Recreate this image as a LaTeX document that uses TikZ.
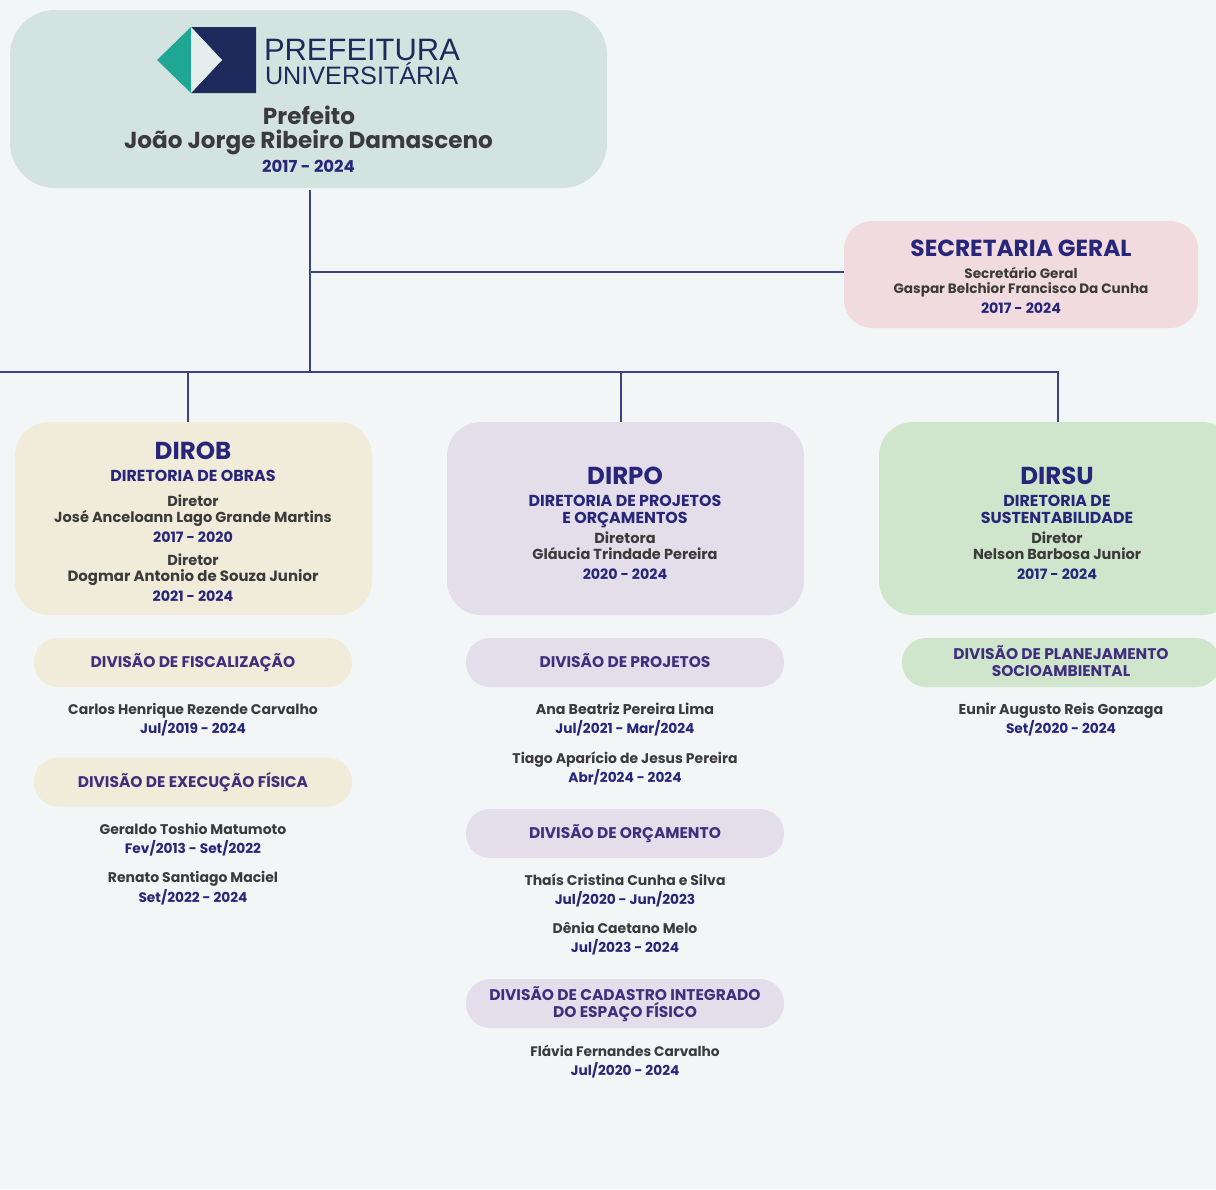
\documentclass[tikz,border=0pt]{standalone}
\usepackage{fontspec}
\setmainfont{Poppins}
\newfontfamily\logofont{Liberation Sans}
\definecolor{bgc}{HTML}{F3F6F6}
\definecolor{topc}{HTML}{D3E3E0}
\definecolor{secc}{HTML}{F2DBDE}
\definecolor{obc}{HTML}{F1ECD9}
\definecolor{poc}{HTML}{E3DEEA}
\definecolor{suc}{HTML}{D0E6CC}
\definecolor{linec}{HTML}{3D4186}
\definecolor{blu}{HTML}{27267A}
\definecolor{gry}{HTML}{3B3B3B}
\definecolor{divc}{HTML}{3F2F7E}
\definecolor{navy}{HTML}{1F2A5C}
\definecolor{teal}{HTML}{1FA695}
\newcommand{\fs}[1]{\fontsize{#1}{#1}\selectfont\bfseries}
\tikzset{
  x=0.75pt,y=-0.75pt,
  lbl/.style={inner sep=0pt,outer sep=0pt,align=center,anchor=center,text depth=0pt,yshift=-0.3pt},
  fsz/.style={font=\fs{#1},text height=#1*0.7pt},
  pers/.style={lbl,text=gry,fsz=10.5},
  head/.style={lbl,text=gry,fsz=10.9},
  date/.style={lbl,text=blu,fsz=10.3},
  bdate/.style={lbl,text=blu,fsz=10.7},
  divt/.style={lbl,text=divc,fsz=11.6},
  dirt/.style={lbl,text=blu,fsz=11.9},
  acro/.style={lbl,text=blu,fsz=18.4},
  conn/.style={draw=linec,line width=0.95pt},
  bx/.style n args={4}{rectangle,draw=none,fill=#1,rounded corners=#2*0.75pt,minimum width=#3*0.75pt,minimum height=#4*0.75pt,inner sep=0pt,outer sep=0pt},
}
\begin{document}
\begin{tikzpicture}
\path[use as bounding box,fill=bgc] (0,0) rectangle (1216,1189);
% boxes
\node[bx={topc}{45}{597}{178}] (top) at (308.5,99) {};
\node[bx={secc}{28}{354}{107}] (sec) at (1021,274.5) {};
\node[bx={obc}{34}{357}{193}] (dirob) at (193.5,518.5) {};
\node[bx={poc}{34}{357}{193}] (dirpo) at (625.5,518.5) {};
\node[bx={suc}{34}{357}{193}] (dirsu) at (1057.5,518.5) {};
\node[bx={obc}{24}{318}{49}] (dfis) at (193,662.5) {};
\node[bx={obc}{24}{318}{49}] (dexe) at (193,782) {};
\node[bx={poc}{24}{318}{49}] (dpro) at (625,662.5) {};
\node[bx={poc}{24}{318}{49}] (dorc) at (625,833.5) {};
\node[bx={poc}{24}{318}{49}] (dcad) at (625,1003.5) {};
\node[bx={suc}{24}{318}{49}] (dpla) at (1061,662.5) {};
% connectors
\coordinate (jsec) at (310,272);
\coordinate (jmain) at (310,372);
\coordinate (jleft) at (0,372);
\coordinate (job) at (188,372);
\coordinate (jpo) at (621,372);
\coordinate (jsu) at (1058,372);
\draw[conn] (jmain |- top.south) ++(0,2) -- (jmain);
\draw[conn] (jsec) -- (sec.west |- jsec);
\draw[conn] (jleft) -- (jsu) -- (jsu |- dirsu.north);
\draw[conn] (job) -- (job |- dirob.north);
\draw[conn] (jpo) -- (jpo |- dirpo.north);
% logo
\fill[teal] (191,27) -- (157,60) -- (191,93) -- cycle;
\fill[navy] (191,27) -- (256,27) -- (256,93) -- (191,93) -- (222,60) -- cycle;
\fill[bgc!60!topc] (191,27) -- (222,60) -- (191,93) -- cycle;
\node[lbl,anchor=west,text=navy,font=\logofont\fontsize{23.2}{23.2}\selectfont,text height=16.6pt] (lg1) at (264,49) {PREFEITURA};
\node[lbl,anchor=west,text=navy,font=\logofont\fontsize{18.9}{18.9}\selectfont,text height=13.6pt] (lg2) at (265,75.5) {UNIVERSITÁRIA};
% top
\node[lbl,text=gry,fsz=17.35] (t1) at (309,116) {Prefeito};
\node[lbl,text=gry,fsz=17.35] (t2) at (308.5,139.5) {João Jorge Ribeiro Damasceno};
\node[lbl,text=blu,fsz=12.4] (t3) at (308.5,166) {2017 - 2024};
% secretaria
\node[acro,fsz=17.45] (s1) at (1021,248) {SECRETARIA GERAL};
\node[pers,fsz=10.2] (s2) at (1021,273) {Secretário Geral};
\node[pers,fsz=10.2] (s3) at (1021,288) {Gaspar Belchior Francisco Da Cunha};
\node[bdate] (s4) at (1021,308) {2017 - 2024};
% dirob
\node[acro] (o1) at (193,451) {DIROB};
\node[dirt] (o2) at (193,476) {DIRETORIA DE OBRAS};
\node[head] (o3) at (193,501) {Diretor};
\node[head] (o4) at (193,517) {José Anceloann Lago Grande Martins};
\node[bdate] (o5) at (193,537) {2017 - 2020};
\node[head] (o6) at (193,560) {Diretor};
\node[head,fsz=11.2] (o7) at (193,576) {Dogmar Antonio de Souza Junior};
\node[bdate] (o8) at (193,596) {2021 - 2024};
% dirpo
\node[acro] (p1) at (625,476) {DIRPO};
\node[dirt] (p2) at (625,501) {DIRETORIA DE PROJETOS};
\node[dirt] (p3) at (625,518) {E ORÇAMENTOS};
\node[head] (p4) at (625,538) {Diretora};
\node[head] (p5) at (625,554) {Gláucia Trindade Pereira};
\node[bdate] (p6) at (625,574) {2020 - 2024};
% dirsu
\node[acro] (u1) at (1057,476) {DIRSU};
\node[dirt] (u2) at (1057,501) {DIRETORIA DE};
\node[dirt] (u3) at (1057,518) {SUSTENTABILIDADE};
\node[head] (u4) at (1057,538) {Diretor};
\node[head] (u5) at (1057,554) {Nelson Barbosa Junior};
\node[bdate] (u6) at (1057,574) {2017 - 2024};
% left column
\node[divt] (a1) at (193,662) {DIVISÃO DE FISCALIZAÇÃO};
\node[pers] (a2) at (193,709) {Carlos Henrique Rezende Carvalho};
\node[date] (a3) at (193,728) {Jul/2019 - 2024};
\node[divt] (a4) at (193,782) {DIVISÃO DE EXECUÇÃO FÍSICA};
\node[pers] (a5) at (193,829) {Geraldo Toshio Matumoto};
\node[date] (a6) at (193,848) {Fev/2013 - Set/2022};
\node[pers] (a7) at (193,877) {Renato Santiago Maciel};
\node[date] (a8) at (193,897) {Set/2022 - 2024};
% middle column
\node[divt] (b1) at (625,662) {DIVISÃO DE PROJETOS};
\node[pers,fsz=10.7] (b2) at (625,709) {Ana Beatriz Pereira Lima};
\node[date] (b3) at (625,728) {Jul/2021 - Mar/2024};
\node[pers] (b4) at (625,758) {Tiago Aparício de Jesus Pereira};
\node[date] (b5) at (625,777) {Abr/2024 - 2024};
\node[divt] (b6) at (625,833) {DIVISÃO DE ORÇAMENTO};
\node[pers] (b7) at (625,880) {Thaís Cristina Cunha e Silva};
\node[date] (b8) at (625,899) {Jul/2020 - Jun/2023};
\node[pers] (b9) at (625,928) {Dênia Caetano Melo};
\node[date] (b10) at (625,947) {Jul/2023 - 2024};
\node[divt] (b11) at (625,995) {DIVISÃO DE CADASTRO INTEGRADO};
\node[divt] (b12) at (625,1012) {DO ESPAÇO FÍSICO};
\node[pers,fsz=10.3] (b13) at (625,1051) {Flávia Fernandes Carvalho};
\node[date] (b14) at (625,1070) {Jul/2020 - 2024};
% right column
\node[divt] (c1) at (1061,654) {DIVISÃO DE PLANEJAMENTO};
\node[divt] (c2) at (1061,671) {SOCIOAMBIENTAL};
\node[pers,fsz=10.7] (c3) at (1061,709) {Eunir Augusto Reis Gonzaga};
\node[date] (c4) at (1061,728) {Set/2020 - 2024};
\end{tikzpicture}
\end{document}
